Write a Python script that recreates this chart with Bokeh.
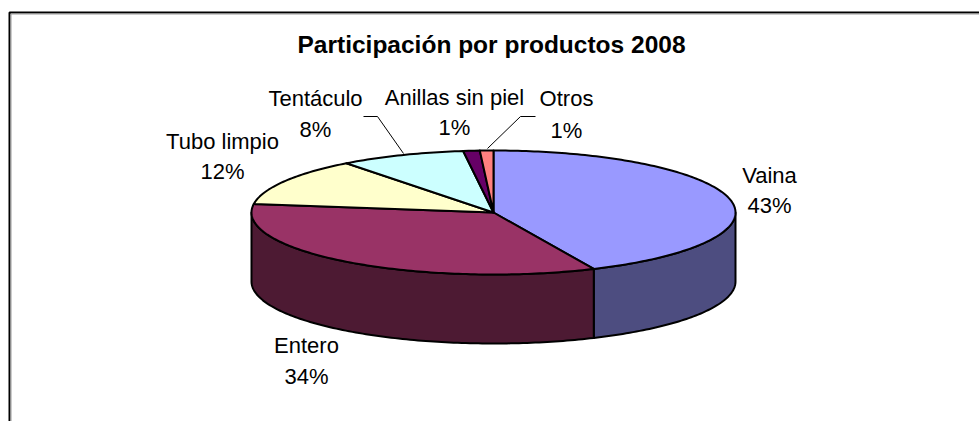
import numpy as np
from bokeh.core.properties import value
from bokeh.embed import file_html
from bokeh.models import ColumnDataSource, Range1d
from bokeh.plotting import figure
from bokeh.resources import INLINE

title = "Participación por productos 2008"
categories = ["Vaina", "Entero", "Tubo limpio", "Tentáculo", "Anillas sin piel", "Otros"]
shares = [43.2, 34.0, 12.4, 8.4, 1.1, 0.9]
top_colors = ["#9999FF", "#993366", "#FFFFCC", "#CCFFFF", "#660066", "#FF8080"]
side_colors = ["#4D4D80", "#4D1A33", "#80806A", "#6A8080", "#330033", "#804040"]

# label layout (page pixels): centre x, name y, percent y
label_x = [769, 306, 222, 315, 454, 566]
label_name_y = [175, 345, 141, 98, 97, 98]
label_pct_y = [205, 376, 171, 129, 127, 130]

# leader lines
leader_xs = [[363, 377, 403], [487, 520, 535]]
leader_ys = [[116, 116, 153], [148, 116, 116]]

# pie geometry (page pixels)
CX, CY, RX, RY, DEPTH = 493, 212, 242, 62, 69
LEFT, TOP, W, H = 0, 0, 979, 421

total = sum(shares)
edges = np.cumsum([0.0] + [s / total * 2 * np.pi for s in shares])


def rim(a0, a1, dy=0.0):
    t = np.linspace(a0, a1, max(int(abs(a1 - a0) * 60), 2))
    return CX + RX * np.sin(t), CY + dy - RY * np.cos(t)


p = figure(
    width=W, height=H, output_backend="svg", toolbar_location=None,
    x_range=Range1d(LEFT, LEFT + W), y_range=Range1d(TOP + H, TOP),
    min_border=0, outline_line_color=None, background_fill_color="white",
)
p.axis.visible = False
p.grid.visible = False

# chart border (left and top edges)
p.line([9, 9, LEFT + W], [TOP + H, 12, 12], line_color="#000000", line_width=2)
p.line([10.5, 10.5, LEFT + W], [TOP + H, 13.5, 13.5], line_color="#9a9a9a", line_width=1)

# rim wall: only the front half of the pie shows
sx, sy, sc = [], [], []
for i in range(len(shares)):
    a0, a1 = max(edges[i], np.pi / 2), min(edges[i + 1], 3 * np.pi / 2)
    if a1 <= a0:
        continue
    x0, y0 = rim(a0, a1)
    x1, y1 = rim(a1, a0, DEPTH)
    sx.append(np.r_[x0, x1])
    sy.append(np.r_[y0, y1])
    sc.append(side_colors[i])
p.patches(sx, sy, fill_color=sc, line_color="#000000", line_width=2, line_join="round")

# top face
tx, ty = [], []
for i in range(len(shares)):
    x0, y0 = rim(edges[i], edges[i + 1])
    tx.append(np.r_[CX, x0])
    ty.append(np.r_[CY, y0])
p.patches(tx, ty, fill_color=top_colors, line_color="#000000", line_width=2, line_join="round")

p.multi_line(leader_xs, leader_ys, line_color="#000000", line_width=1)

pct = [f"{round(s / total * 100)}%" for s in shares]
src = ColumnDataSource(dict(x=label_x, ny=label_name_y, py=label_pct_y, name=categories, pct=pct))
for col, ycol in (("name", "ny"), ("pct", "py")):
    p.text("x", ycol, text=col, source=src, text_font=value("Liberation Sans"), text_font_size="22px",
           text_align="center", text_baseline="middle", text_color="#000000")

p.text([491], [44], text=[title], text_font=value("Liberation Sans"), text_font_size="24.5px",
       text_font_style="bold", text_align="center", text_baseline="middle", text_color="#000000")

open("out.html", "w").write(file_html(p, INLINE))
